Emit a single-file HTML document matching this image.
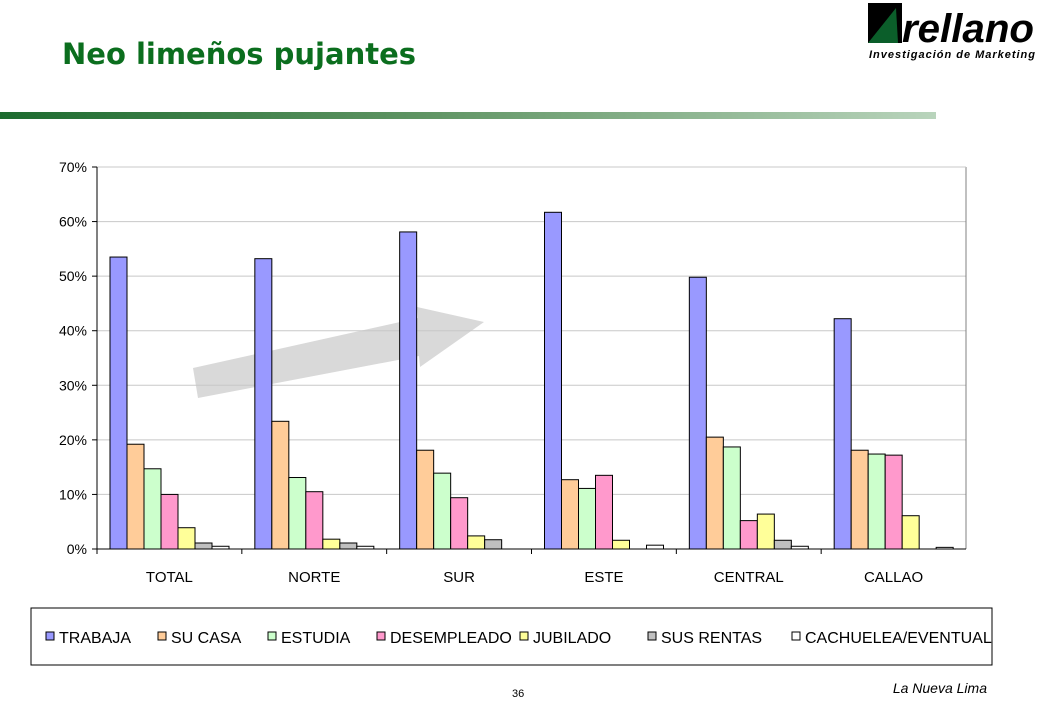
<!DOCTYPE html>
<html><head><meta charset="utf-8"><style>
body{margin:0;width:1040px;height:720px;background:#fff;font-family:"Liberation Sans",sans-serif;position:relative;overflow:hidden}
</style></head><body>
<div style="position:absolute;left:62px;top:37px;font-size:29px;font-weight:bold;color:#0b6e1e;font-family:'DejaVu Sans','Liberation Sans',sans-serif">Neo limeños pujantes</div>
<div style="position:absolute;left:866px;top:2px;width:172px;height:60px">
<svg width="172" height="60"><rect x="2" y="1" width="34" height="40" fill="#000"/><polygon points="2,41 30,6 32,41" fill="#0b5e2a"/>
<text x="36" y="40" font-family="Liberation Sans" font-style="italic" font-weight="bold" font-size="40" fill="#000" textLength="132" lengthAdjust="spacingAndGlyphs">rellano</text>
<text x="3" y="56" font-family="Liberation Sans" font-style="italic" font-weight="bold" font-size="11" fill="#000" textLength="166" lengthAdjust="spacing">Investigación de Marketing</text></svg></div>
<div style="position:absolute;left:0;top:112px;width:936px;height:7px;background:linear-gradient(to right,#1d6b2f,#5f9463 45%,#b9d4bc)"></div>
<svg id="chart" width="1040" height="720" style="position:absolute;left:0;top:0"></svg>
<div style="position:absolute;left:512px;top:688px;font-size:11px">36</div>
<div style="position:absolute;right:53px;top:680px;font-size:14px;font-style:italic">La Nueva Lima</div>
<script>
const categories=["TOTAL","NORTE","SUR","ESTE","CENTRAL","CALLAO"];
const seriesNames=["TRABAJA","SU CASA","ESTUDIA","DESEMPLEADO","JUBILADO","SUS RENTAS","CACHUELEA/EVENTUAL"];
const trabaja=[53.5,53.2,58.1,61.7,49.8,42.2];
const suCasa=[19.2,23.4,18.1,12.7,20.5,18.1];
const estudia=[14.7,13.1,13.9,11.1,18.7,17.4];
const desempleado=[10,10.5,9.4,13.5,5.2,17.2];
const jubilado=[3.9,1.8,2.4,1.6,6.4,6.1];
const susRentas=[1.1,1.1,1.7,0,1.6,0];
const cachuelea=[0.5,0.5,0,0.7,0.5,0.3];
const yTicks=[0,10,20,30,40,50,60,70];
const series=[trabaja,suCasa,estudia,desempleado,jubilado,susRentas,cachuelea];
const colors=["#9999ff","#ffcc99","#ccffcc","#ff99cc","#ffff99","#c0c0c0","#ffffff"];
const svg=document.getElementById('chart');const NS="http://www.w3.org/2000/svg";
function mk(t,a,p){const e=document.createElementNS(NS,t);for(const k in a)e.setAttribute(k,a[k]);(p||svg).appendChild(e);return e;}
const L=97,R=966,T=167,B=549;
const y=v=>B-(v/70)*(B-T);
const gw=(R-L)/categories.length;
const x=(g,s)=>L+g*gw+13+s*17;
const ar=mk('polygon',{points:"193,368 418,318 417,307 484,322 420,367 419,356 198,398",fill:"#d9d9d9"});

yTicks.forEach(t=>{
 if(t>0){const g=mk('line',{x1:L,x2:R,y1:y(t),y2:y(t),stroke:"#c8c8c8","stroke-width":1});}
 const tk=mk('line',{x1:L-5,x2:L,y1:y(t),y2:y(t),stroke:"#000"});
 const tx=mk('text',{x:L-10,y:y(t)+5,"text-anchor":"end","font-size":"14","font-family":"Liberation Sans"});tx.textContent=t+"%";
 
});
const rb=mk('line',{x1:R,x2:R,y1:T,y2:B,stroke:"#808080"});
const tb=mk('line',{x1:L,x2:R,y1:T,y2:T,stroke:"#c8c8c8"});
series.forEach((arr,s)=>arr.forEach((v,g)=>{
 if(v<=0)return;
 const r=mk('rect',{x:x(g,s),y:y(v),width:17,height:B-y(v),fill:colors[s],stroke:"#000","stroke-width":1});
 
}));
const ya=mk('line',{x1:L,x2:L,y1:T,y2:B,stroke:"#000"});
const xa=mk('line',{x1:L,x2:R,y1:B,y2:B,stroke:"#000"});
categories.forEach((c,g)=>{
 const tk=mk('line',{x1:L+g*gw,x2:L+g*gw,y1:B,y2:B+5,stroke:"#000"});
 const tx=mk('text',{x:L+g*gw+gw/2,y:582,"text-anchor":"middle","font-size":"15","font-family":"Liberation Sans"});tx.textContent=c;
 
});
const lb=mk('rect',{x:31,y:608,width:961,height:57,fill:"none",stroke:"#000"});
const lx=[46,158,268,377,520,648,792];
seriesNames.forEach((n,s)=>{
 const r=mk('rect',{x:lx[s],y:632,width:8,height:8,fill:colors[s],stroke:"#000"});
 const t=mk('text',{x:lx[s]+13,y:643,"font-size":"16","font-family":"Liberation Sans"});t.textContent=n;
 
});
</script>
</body></html>
